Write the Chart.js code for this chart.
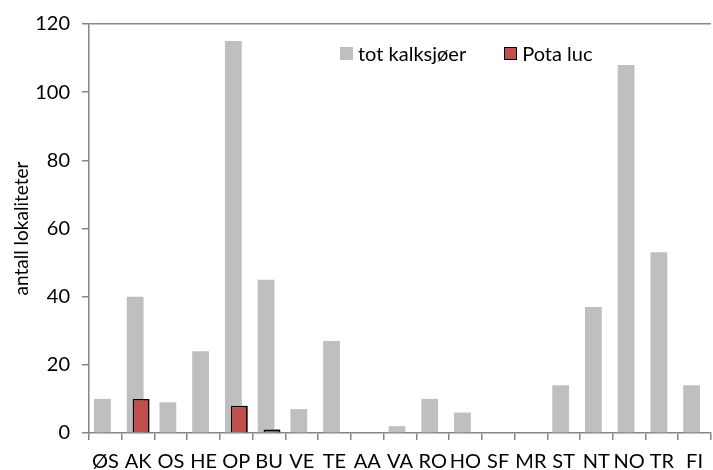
<!DOCTYPE html>
<html>
<head>
<meta charset="utf-8">
<script src="https://cdn.jsdelivr.net/npm/chart.js@4.4.0/dist/chart.umd.min.js"></script>
<style>
  body{margin:0;background:#fff;}
  #wrap{position:relative;width:713px;height:470px;}
  #legend{position:absolute;left:340px;top:41px;font-family:Lato,sans-serif;font-size:20px;color:#000;display:flex;}
  #legend span.item{display:flex;align-items:center;margin-right:38px;}
  #legend span.box{display:inline-block;width:13px;height:13px;margin-right:5px;box-sizing:border-box;}
</style>
</head>
<body>
<div id="wrap">
  <canvas id="myChart" width="713" height="470"></canvas>
  <div id="legend"></div>
</div>
<script>
var fylker=['ØS','AK','OS','HE','OP','BU','VE','TE','AA','VA','RO','HO','SF','MR','ST','NT','NO','TR','FI'];
var totKalksjoer=[10,40,9,24,115,45,7,27,0,2,10,6,0,0,14,37,108,53,14];
var potaLuc=[0,10,0,0,8,1,0,0,0,0,0,0,0,0,0,0,0,0,0];
var yTicks=[0,20,40,60,80,100,120];

var axisColor='#868686';
var font={family:'Lato, sans-serif',size:20};

var chardata={
  labels:fylker,
  datasets:[
    {
      label:'tot kalksjøer',
      data:totKalksjoer,
      backgroundColor:'#BFBFBF',
      borderWidth:0,
      categoryPercentage:0.36,
      barPercentage:2.85
    },
    {
      label:'Pota luc',
      data:potaLuc,
      backgroundColor:'#C0504D',
      borderColor:'#000',
      borderWidth:function(c){return c.raw?1.5:0;},
      borderSkipped:'bottom',
      categoryPercentage:0.36,
      barPercentage:2.85
    }
  ]
};

// red bars must sit on top of the grey ones (Excel overlap)
var redOnTop={
  id:'redOnTop',
  afterDatasetsDraw:function(chart){
    var meta=chart.getDatasetMeta(1);
    var c=chart.ctx;
    c.save();
    meta.data.forEach(function(el){el.draw(c);});
    c.restore();
  }
};

var ctx=document.getElementById('myChart');
var barGraph=new Chart(ctx,{
  type:'bar',
  data:chardata,
  plugins:[redOnTop],
  options:{
    responsive:false,
    animation:false,
    layout:{padding:{top:22,right:0,left:0,bottom:0}},
    plugins:{legend:{display:false},tooltip:{enabled:false}},
    scales:{
      x:{
        offset:true,
        grid:{offset:true,drawOnChartArea:false,tickColor:axisColor,tickLength:7,lineWidth:1.5},
        border:{color:axisColor,width:1.5},
        ticks:{color:'#000',font:font,padding:10,maxRotation:0,autoSkip:false},
        afterFit:function(s){s.height=37;}
      },
      y:{
        min:0,max:120,
        afterBuildTicks:function(s){s.ticks=yTicks.map(function(v){return {value:v};});},
        grid:{
          color:function(c){return c.tick&&c.tick.value===120?axisColor:'transparent';},
          tickColor:axisColor,tickLength:7,lineWidth:1.5
        },
        border:{color:axisColor,width:1.5},
        ticks:{color:'#000',font:font,padding:12},
        title:{display:true,text:'antall lokaliteter',color:'#000',font:{family:'Lato, sans-serif',size:19},padding:{top:10,bottom:0}},
        afterFit:function(s){s.width=89;}
      }
    }
  }
});

// legend inside the plot area, built from the datasets
var lg=document.getElementById('legend');
chardata.datasets.forEach(function(d){
  var it=document.createElement('span');it.className='item';
  var b=document.createElement('span');b.className='box';
  b.style.background=d.backgroundColor;
  if(d.borderColor){b.style.border='1.5px solid '+d.borderColor;}
  it.appendChild(b);
  it.appendChild(document.createTextNode(d.label));
  lg.appendChild(it);
});
</script>
</body>
</html>
